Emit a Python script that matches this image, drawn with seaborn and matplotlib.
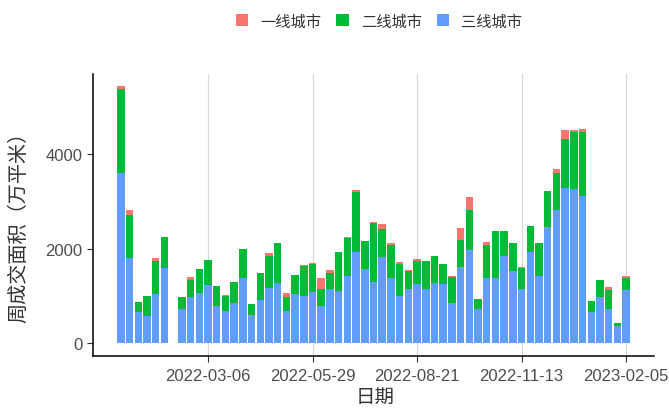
import numpy as np
import pandas as pd
import matplotlib
matplotlib.use("Agg")
import matplotlib.pyplot as plt
from matplotlib.patches import Patch
import seaborn as sns

# ---- data (万平米, weekly) ----
dates = pd.date_range("2021-12-26", "2023-02-05", freq="7D").strftime("%Y-%m-%d").tolist()
tier3 = [3600, 1810, 650, 570, 1040, 1600, 0, 720, 970, 1070,
         1240, 790, 684, 855, 1380, 600, 915, 1160, 1280, 684,
         1040, 1000, 1086, 790, 1143, 1110, 1424, 1925, 1560, 1284,
         1813, 1380, 1001, 1143, 1250, 1143, 1266, 1248, 855, 1620,
         1970, 720, 1369, 1369, 1847, 1530, 1143, 1919, 1424, 2448,
         2815, 3294, 3259, 3104, 650, 967, 720, 353, 1128]
tier2 = [1775, 900, 220, 430, 700, 650, 0, 260, 370, 490,
         510, 415, 320, 440, 610, 230, 565, 690, 845, 300,
         400, 640, 590, 350, 340, 810, 810, 1270, 600, 1250,
         600, 700, 670, 390, 490, 600, 580, 424, 555, 570,
         840, 210, 705, 1000, 530, 586, 458, 550, 690, 775,
         790, 1020, 1220, 1375, 245, 373, 408, 70, 241]
tier1 = [60, 100, 5, 5, 60, 5, 0, 5, 60, 5,
         10, 5, 5, 5, 5, 5, 5, 65, 5, 70,
         5, 20, 25, 230, 70, 5, 5, 40, 5, 20,
         100, 50, 50, 5, 50, 5, 5, 5, 5, 250,
         290, 5, 60, 5, 5, 5, 5, 5, 5, 5,
         75, 190, 30, 50, 5, 5, 50, 5, 42]
series_names = ["一线城市", "二线城市", "三线城市"]
colors = ["#F8766D", "#00BA38", "#619CFF"]
tick_labels = ["2022-03-06", "2022-05-29", "2022-08-21", "2022-11-13", "2023-02-05"]
y_ticks = [0, 2000, 4000]

df = pd.DataFrame({"date": dates, "t1": tier1, "t2": tier2, "t3": tier3})
df["top1"] = df["t1"] + df["t2"] + df["t3"]
df["top2"] = df["t2"] + df["t3"]
df["top3"] = df["t3"]

sns.set_style("white")
plt.rcParams["font.family"] = ["Liberation Sans", "Noto Sans CJK SC"]
cjk = ["Noto Sans CJK SC", "DejaVu Sans"]

W, H = 669, 410
fig = plt.figure(figsize=(W / 100, H / 100), dpi=100)
left, right, top, bottom = 93, 654, 74.5, 357
ax = fig.add_axes([left / W, 1 - bottom / H, (right - left) / W, (bottom - top) / H])

for col, c in zip(["top1", "top2", "top3"], colors):
    sns.barplot(data=df, x="date", y=col, color=c, saturation=1, width=0.86,
                errorbar=None, linewidth=0, order=dates, ax=ax)

ymax = max(df["top1"])
ax.set_ylim(-0.05 * ymax, 1.05 * ymax)
ax.set_xlim(-3.2, len(dates) - 1 + 3.2)
ax.set_yticks(y_ticks)
ax.set_yticklabels([str(v) for v in y_ticks])
ax.set_xticks([dates.index(t) for t in tick_labels])
ax.set_xticklabels(tick_labels)
ax.set_xlabel("")
ax.set_ylabel("")

ax.grid(axis="x", color="#D9D9D9", linewidth=0.9)
ax.grid(axis="y", visible=False)
ax.set_axisbelow(True)
for s in ["top", "right"]:
    ax.spines[s].set_visible(False)
for s in ["left", "bottom"]:
    ax.spines[s].set_color("black")
    ax.spines[s].set_linewidth(1.1)
ax.tick_params(axis="both", colors="#333333", labelcolor="#4D4D4D", labelsize=12,
               length=4.5, width=0.8, direction="out")
ax.tick_params(axis="x", pad=4)
ax.tick_params(axis="y", pad=3)
ax.tick_params(bottom=True, left=True)

fig.text(19 / W, 1 - 222 / H, "周成交面积（万平米）", rotation=90, ha="center", va="center",
         fontsize=14.5, color="#333333", family=cjk)
fig.text(375 / W, 1 - 397 / H, "日期", ha="center", va="center",
         fontsize=14, color="#333333", family=cjk)

handles = [Patch(facecolor=c, edgecolor="none") for c in colors]
leg = fig.legend(handles, series_names, loc="center", bbox_to_anchor=(379 / W, 1 - 22 / H),
                 ncol=3, frameon=False, handlelength=0.8, handleheight=0.8,
                 handletextpad=0.8, columnspacing=1.0, prop={"family": cjk, "size": 11})
for t in leg.get_texts():
    t.set_color("#333333")

fig.savefig("out.png", dpi=100)
